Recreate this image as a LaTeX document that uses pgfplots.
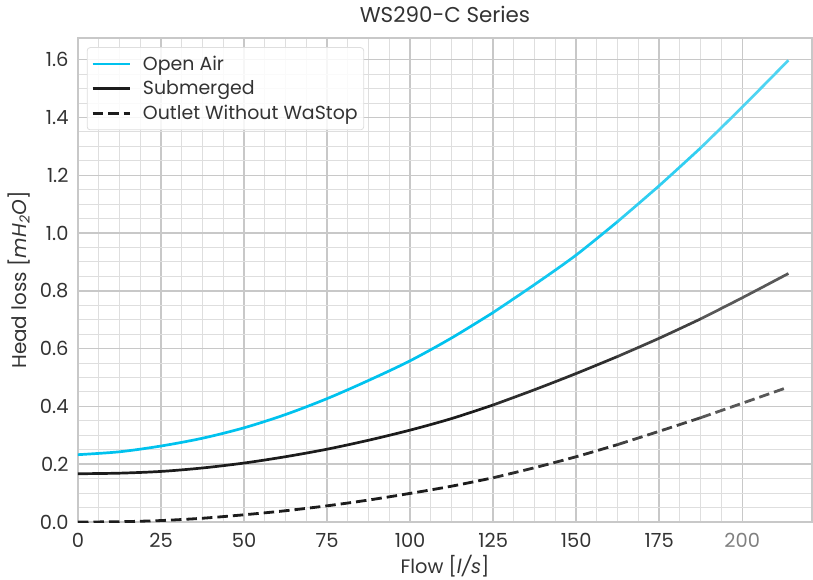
\documentclass[border=0pt]{standalone}
\usepackage{fontspec}
\setmainfont{Poppins}
\usepackage{pgfplots}
\pgfplotsset{compat=1.18}
\definecolor{txt}{HTML}{333333}
\definecolor{oaA}{RGB}{0,194,238}
\definecolor{oaB}{RGB}{18,199,240}
\definecolor{oaC}{RGB}{48,206,241}
\definecolor{oaD}{RGB}{78,212,242}
\definecolor{smA}{RGB}{28,28,28}
\definecolor{smB}{RGB}{45,45,45}
\definecolor{smC}{RGB}{66,66,66}
\definecolor{smD}{RGB}{88,88,88}
\definecolor{gridmaj}{HTML}{C8C8C8}
\definecolor{gridmin}{HTML}{DEDEDE}
\pgfplotstableread{
x y
0 0.233
12.5 0.243
25 0.263
37.5 0.290
50 0.326
62.5 0.372
75 0.427
87.5 0.490
100 0.558
112.5 0.637
125 0.725
}\oaA
\pgfplotstableread{
x y
125 0.725
137.5 0.822
150 0.924
162.5 1.040
}\oaB
\pgfplotstableread{
x y
162.5 1.040
175 1.164
187.5 1.295
}\oaC
\pgfplotstableread{
x y
187.5 1.295
200 1.436
213.9 1.598
}\oaD
\pgfplotstableread{
x y
0 0.167
12.5 0.169
25 0.175
37.5 0.187
50 0.204
62.5 0.226
75 0.252
87.5 0.283
100 0.318
112.5 0.358
125 0.405
}\smA
\pgfplotstableread{
x y
125 0.405
137.5 0.458
150 0.514
162.5 0.573
}\smB
\pgfplotstableread{
x y
162.5 0.573
175 0.636
187.5 0.703
}\smC
\pgfplotstableread{
x y
187.5 0.703
200 0.776
213.9 0.860
}\smD
\pgfplotstableread{
x y
0 0.000
12.5 0.001
25 0.005
37.5 0.013
50 0.025
62.5 0.039
75 0.056
87.5 0.076
100 0.099
112.5 0.124
125 0.153
}\otA
\pgfplotstableread{
x y
125 0.153
137.5 0.188
150 0.226
162.5 0.268
}\otB
\pgfplotstableread{
x y
162.5 0.268
175 0.314
187.5 0.361
}\otC
\pgfplotstableread{
x y
187.5 0.361
200 0.411
213.9 0.467
}\otD
\begin{document}
\begin{tikzpicture}
\path[use as bounding box] (-78bp,-58bp) rectangle (735bp,522bp);
\begin{axis}[
  at={(0,0)}, anchor=south west,
  scale only axis, width=734bp, height=484bp,
  xmin=0, xmax=221, ymin=0, ymax=1.675,
  font=\fontsize{19.5}{23}\selectfont,
  /pgf/number format/assume math mode=true,
  xtick={0,25,...,200},
  xticklabels={0,25,50,75,100,125,150,175,\textcolor{gray}{200}},
  ytick={0,0.2,...,1.6},
  yticklabel style={/pgf/number format/fixed, /pgf/number format/fixed zerofill, /pgf/number format/precision=1},
  minor x tick num=3, minor y tick num=3,
  major tick length=0pt, minor tick length=0pt,
  grid=both,
  major grid style={draw=gridmaj, line width=1.5bp},
  minor grid style={draw=gridmin, line width=1bp},
  axis line style={draw=gridmaj, line width=2bp},
  tick label style={text=txt},
  xticklabel style={yshift=-8bp},
  yticklabel style={xshift=-6bp},
  title={WS290-C Series},
  title style={at={(axis description cs:0.5,1)}, anchor=center, yshift=18bp, text=txt, font=\fontsize{21.5}{25}\selectfont},
  xlabel={Flow [\textit{l/s}]},
  xlabel style={at={(axis description cs:0.5,0)}, anchor=center, yshift=-44.5bp, text=txt, font=\fontsize{19.5}{23}\selectfont},
  ylabel={Head loss [\textit{mH\textsubscript{2}O}]},
  ylabel style={at={(axis description cs:0,0.5)}, anchor=center, yshift=59bp, text=txt, font=\fontsize{20}{24}\selectfont},
  legend style={at={(axis description cs:0.012,0.981)}, anchor=north west, draw=gridmin, line width=0.8bp, rounded corners=3bp, fill=white, fill opacity=0.85, text opacity=1, text=txt, font=\fontsize{19}{22}\selectfont, inner xsep=4bp, inner ysep=6.5bp, row sep=5bp, column sep=10bp},
  legend cell align=left,
  legend image code/.code={\draw[#1] (0bp,0bp) -- (37bp,0bp);},
]
\addlegendimage{oaA, line width=2.7bp}
\addlegendentry{Open Air}
\addlegendimage{smA, line width=2.7bp}
\addlegendentry{Submerged}
\addlegendimage{smA, line width=2.8bp, dash pattern=on 10.5bp off 5bp}
\addlegendentry{Outlet Without WaStop}
\addplot[oaA, smooth, line width=2.7bp, line cap=round, forget plot] table[x=x,y=y] {\oaA};
\addplot[oaB, smooth, line width=2.7bp, line cap=round, forget plot] table[x=x,y=y] {\oaB};
\addplot[oaC, smooth, line width=2.7bp, line cap=round, forget plot] table[x=x,y=y] {\oaC};
\addplot[oaD, smooth, line width=2.7bp, forget plot] table[x=x,y=y] {\oaD};
\addplot[smA, smooth, line width=2.7bp, line cap=round, forget plot] table[x=x,y=y] {\smA};
\addplot[smB, smooth, line width=2.7bp, line cap=round, forget plot] table[x=x,y=y] {\smB};
\addplot[smC, smooth, line width=2.7bp, line cap=round, forget plot] table[x=x,y=y] {\smC};
\addplot[smD, smooth, line width=2.7bp, forget plot] table[x=x,y=y] {\smD};
\addplot[smA, smooth, line width=2.8bp, dash pattern=on 10.5bp off 5bp, forget plot] table[x=x,y=y] {\otA};
\addplot[smB, smooth, line width=2.8bp, dash pattern=on 10.5bp off 5bp, forget plot] table[x=x,y=y] {\otB};
\addplot[smC, smooth, line width=2.8bp, dash pattern=on 10.5bp off 5bp, forget plot] table[x=x,y=y] {\otC};
\addplot[smD, smooth, line width=2.8bp, dash pattern=on 10.5bp off 5bp, forget plot] table[x=x,y=y] {\otD};
\end{axis}
\end{tikzpicture}
\end{document}
